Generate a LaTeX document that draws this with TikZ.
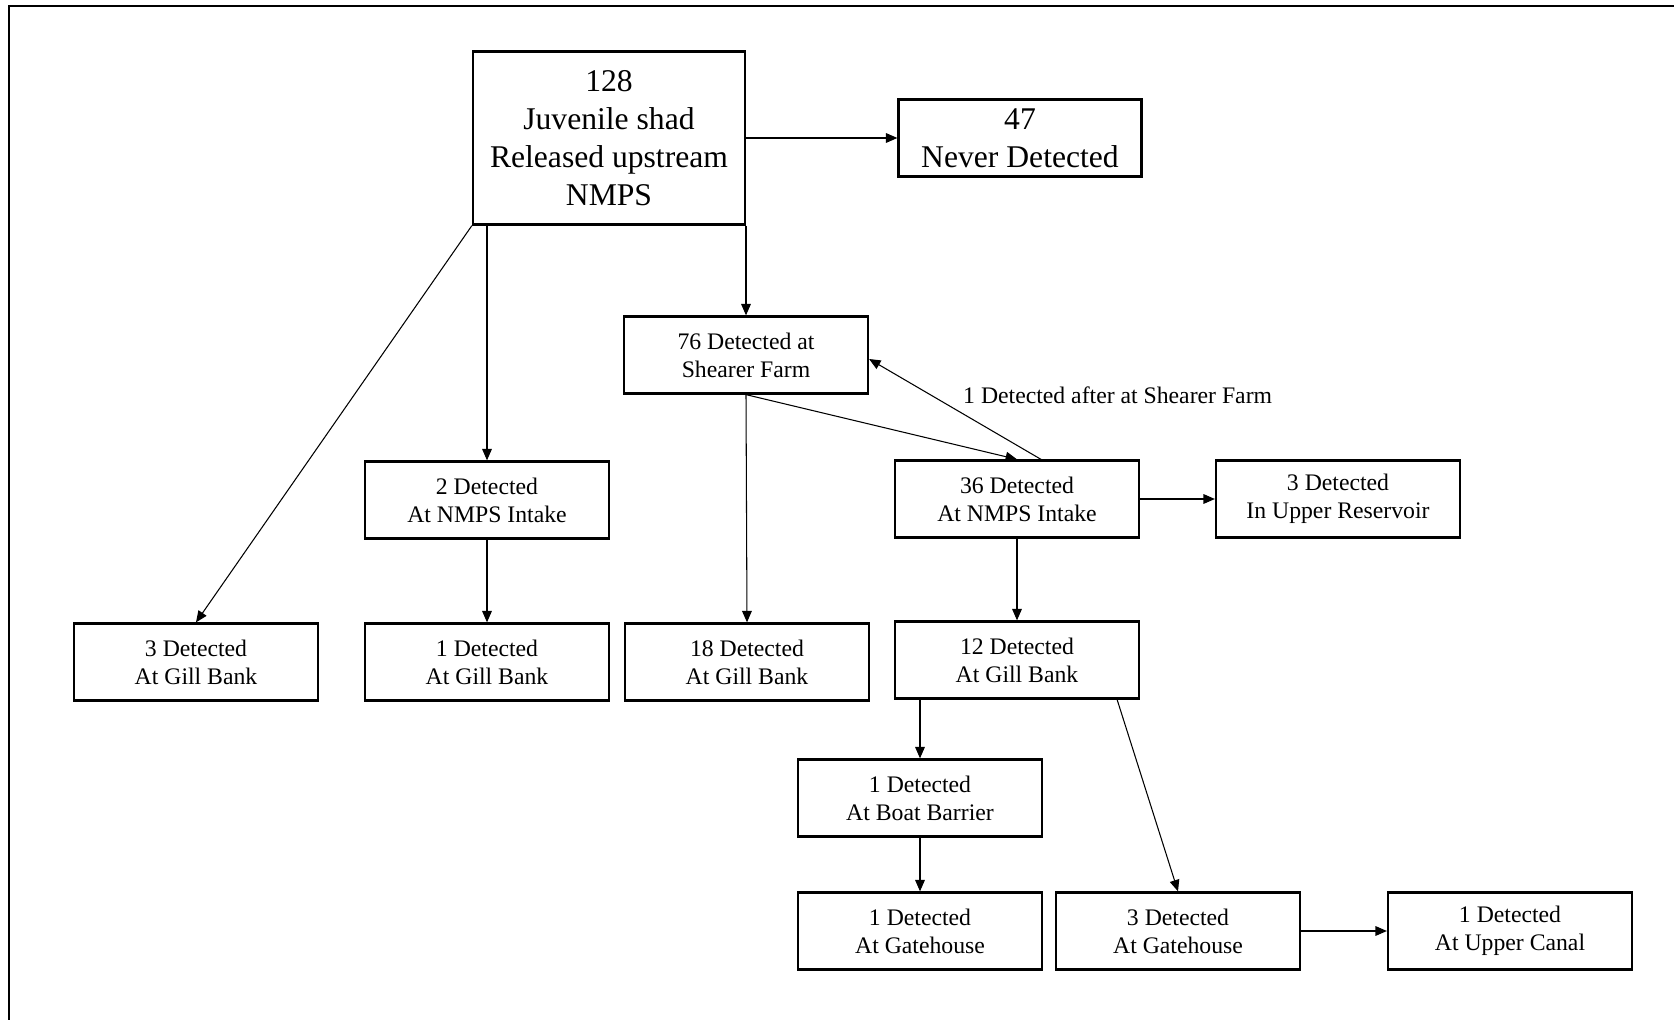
\documentclass[tikz,border=0pt]{standalone}
\usepackage{fontspec}
\setmainfont{Liberation Serif}
\usetikzlibrary{arrows,arrows.meta,calc,positioning}

\tikzset{
  box/.style={draw, line width=1.3pt, minimum width=4.88cm, minimum height=1.54cm,
    align=center, inner sep=0pt, font=\fontsize{13.5}{16}\selectfont},
  bigbox/.style={box, font=\fontsize{18}{21.5}\selectfont},
  conn/.style={line width=0.6pt, -{Triangle[length=6.5pt,width=5.5pt]}},
}

\begin{document}
\begin{tikzpicture}[x=0.02cm,y=-0.02cm]

\useasboundingbox (0,0) rectangle (1674,1020);

% frame (only top and left edge in view)
\draw[line width=1.3pt] (9,1020) -- (9,6) -- (1674,6);

\node[bigbox, minimum width=5.44cm, minimum height=3.46cm] (rel) at (609,138) {128\\Juvenile shad\\Released upstream\\NMPS};
\node[bigbox, minimum width=4.86cm] (never) at (1020,138) {47\\Never Detected};

\node[box] (shearer) at (746,355) {76 Detected at\\Shearer Farm};
\node[box] (intakeA) at (487,500) {2 Detected\\At NMPS Intake};
\node[box] (intakeB) at (1017,499) {36 Detected\\At NMPS Intake};
\node[box] (reservoir) at (1338,499) {3 Detected\\In Upper Reservoir};

\node[box] (gillA) at (196,662) {3 Detected\\At Gill Bank};
\node[box] (gillB) at (487,662) {1 Detected\\At Gill Bank};
\node[box] (gillC) at (747,662) {18 Detected\\At Gill Bank};
\node[box] (gillD) at (1017,660) {12 Detected\\At Gill Bank};

\node[box] (barrier) at (920,798) {1 Detected\\At Boat Barrier};
\node[box] (gateA) at (920,931) {1 Detected\\At Gatehouse};
\node[box] (gateB) at (1178,931) {3 Detected\\At Gatehouse};
\node[box] (canal) at (1510,931) {1 Detected\\At Upper Canal};

\node[anchor=west, font=\fontsize{13.5}{16}\selectfont] (lblback) at (957,395) {1 Detected after at Shearer Farm};

% from the release
\draw[conn] (rel.east) -- (never.west);
\draw[conn] (rel.south west) -- (gillA.north);
\draw[conn] (intakeA.north |- rel.south) -- (intakeA.north);
\draw[conn] (shearer.north |- rel.south) -- (shearer.north);

% from Shearer Farm
\draw[conn] (shearer.south) -- (gillC.north);
\draw[conn] (shearer.south) -- (intakeB.north);
\draw[conn] ($(intakeB.north)+(24,0)$) -- ($(shearer.east)+(0,4)$);

\draw[conn] (intakeA.south) -- (gillB.north);
\draw[conn] (intakeB.east) -- (reservoir.west);
\draw[conn] (intakeB.south) -- (gillD.north);

% from the 12 at Gill Bank
\draw[conn] (barrier.north |- gillD.south) -- (barrier.north);
\draw[conn] ($(gillD.south east)+(-23,0)$) -- (gateB.north);
\draw[conn] (barrier.south) -- (gateA.north);
\draw[conn] (gateB.east) -- (canal.west);

\end{tikzpicture}
\end{document}
